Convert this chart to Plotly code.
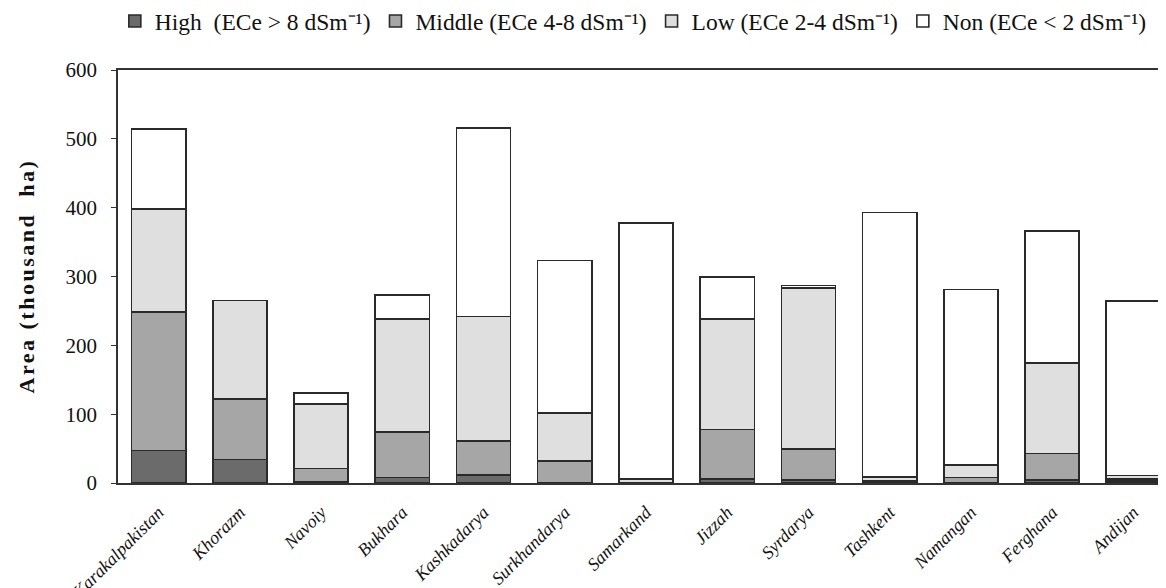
import plotly.graph_objects as go

regions = ["Karakalpakistan", "Khorazm", "Navoiy", "Bukhara", "Kashkadarya", "Surkhandarya",
           "Samarkand", "Jizzah", "Syrdarya", "Tashkent", "Namangan", "Ferghana", "Andijan"]

# stacked values (thousand ha)
high = [47, 34, 2, 8, 12, 0, 0, 6, 4, 1, 0, 4, 2.5]
middle = [201, 88, 19, 66, 49, 32, 1, 72, 45, 2, 8, 39, 3.5]
low = [150, 143, 94, 164, 181, 70, 5, 160, 234, 6, 18, 131, 5]
non = [116, 0, 16, 35, 274, 221, 372, 61, 4, 384, 255, 192, 253]

series_names = ["High  (ECe > 8 dSm⁻¹)", "Middle (ECe 4-8 dSm⁻¹)",
                "Low (ECe 2-4 dSm⁻¹)", "Non (ECe < 2 dSm⁻¹)"]
series_colors = ["#6b6b6b", "#a6a6a6", "#dfdfdf", "#ffffff"]

fig = go.Figure()
for name, vals, col in zip(series_names, [high, middle, low, non], series_colors):
    fig.add_trace(go.Bar(
        x=regions, y=vals, name=name,
        marker=dict(color=col, line=dict(color="#2a2a2a", width=1.6)),
    ))

fig.add_annotation(
    text="<b><span style='letter-spacing:2.5px'>Area (thousand  ha)</span></b>", textangle=-90,
    xref="paper", yref="paper", x=(26 - 118) / 1056, y=0.5,
    xanchor="center", yanchor="middle", showarrow=False,
    font=dict(size=22, family="Liberation Serif", color="#111"),
)

fig.update_layout(
    barmode="stack",
    bargap=0.333,
    width=1166, height=588,
    margin=dict(l=110, r=0, t=62, b=113, autoexpand=False),
    paper_bgcolor="white", plot_bgcolor="white",
    font=dict(family="Liberation Serif", color="#111"),
    showlegend=True,
    legend=dict(orientation="h", x=-0.003, xanchor="left", y=1.118, yanchor="middle",
                font=dict(size=23.5, family="Liberation Serif", color="#111"),
                itemwidth=30, traceorder="normal", tracegroupgap=0),
    xaxis=dict(
        range=[-0.5, 12.5], showline=True, linecolor="#333", linewidth=1.5,
        mirror=True, ticks="", tickangle=-45, ticklabelstandoff=10,
        tickfont=dict(size=18, family="Liberation Serif", color="#111", style="italic"),
    ),
    yaxis=dict(
        range=[0, 600], dtick=100, showline=True, linecolor="#333", linewidth=1.5,
        ticks="outside", ticklen=5, tickcolor="#333", showgrid=False, zeroline=False,
        ticklabelstandoff=10,
        tickfont=dict(size=21, family="Liberation Serif", color="#111"),
    ),
)

fig.write_html("out.html")
